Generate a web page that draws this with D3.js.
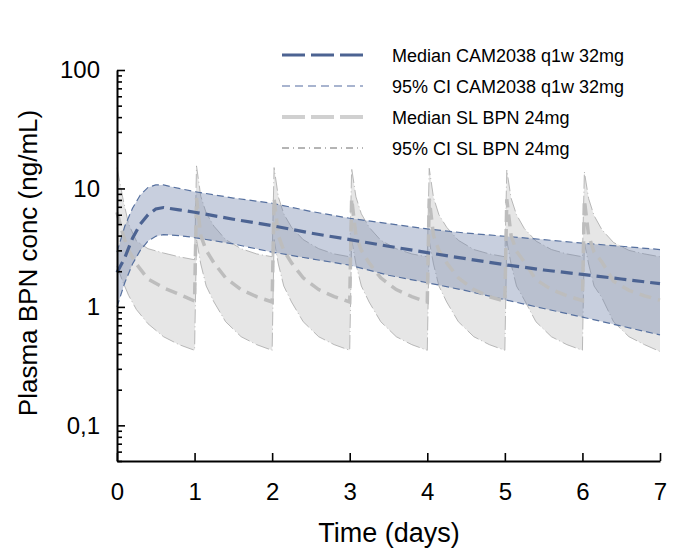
<!DOCTYPE html>
<html>
<head>
<meta charset="utf-8">
<script src="https://cdn.jsdelivr.net/npm/d3@7"></script>
<style>
  body { margin: 0; background: #fff; }
  svg { display: block; font-family: "Liberation Sans", Arial, sans-serif; }
</style>
</head>
<body>
<svg id="chart" width="690" height="550"></svg>
<script>
// ---------- DATA ----------
// CAM2038 q1w 32mg (weekly depot)
const camTime   = [0, 0.1, 0.2, 0.3, 0.4, 0.5, 0.6, 0.8, 1, 1.5, 2, 2.5, 3, 3.5, 4, 4.5, 5, 5.5, 6, 6.5, 7];
const camMedian = [1.95, 2.6, 3.8, 5.0, 6.0, 6.7, 6.9, 6.6, 6.3, 5.5, 4.85, 4.2, 3.7, 3.25, 2.87, 2.55, 2.27, 2.05, 1.88, 1.72, 1.57];
const camLow    = [1.0, 1.6, 2.3, 3.0, 3.6, 3.95, 4.07, 4.0, 3.85, 3.4, 2.9, 2.55, 2.25, 1.85, 1.6, 1.37, 1.15, 0.97, 0.82, 0.69, 0.58];
const camHigh   = [2.9, 4.8, 6.8, 8.8, 10.2, 10.7, 10.7, 10.0, 9.4, 8.3, 7.5, 6.4, 5.6, 5.05, 4.55, 4.2, 3.95, 3.7, 3.45, 3.25, 3.05];

// SL BPN 24mg (daily sublingual)
const slTime = [
  0, 0.08, 0.15, 0.25, 0.4, 0.6, 0.8, 1,
  1.025, 1.08, 1.15, 1.25, 1.4, 1.6, 1.8, 2,
  2.025, 2.08, 2.15, 2.25, 2.4, 2.6, 2.8, 3,
  3.025, 3.08, 3.15, 3.25, 3.4, 3.6, 3.8, 4,
  4.025, 4.08, 4.15, 4.25, 4.4, 4.6, 4.8, 5,
  5.025, 5.08, 5.15, 5.25, 5.4, 5.6, 5.8, 6,
  6.025, 6.08, 6.15, 6.25, 6.4, 6.6, 6.8, 7
];
const slMedian = [
  6.3, 4.0, 3.0, 2.3, 1.72, 1.45, 1.28, 1.12,
  8.3, 4.0, 3.0, 2.35, 1.76, 1.4, 1.22, 1.1,
  8.3, 4.0, 3.0, 2.35, 1.76, 1.4, 1.22, 1.1,
  8.2, 4.0, 3.0, 2.35, 1.76, 1.4, 1.22, 1.1,
  8.2, 4.0, 3.0, 2.35, 1.76, 1.4, 1.22, 1.12,
  8.1, 4.0, 2.95, 2.4, 1.7, 1.4, 1.24, 1.13,
  8.0, 4.0, 2.9, 2.4, 1.65, 1.38, 1.24, 1.14
];
const slLow = [
  2.2, 1.6, 1.25, 0.95, 0.72, 0.56, 0.48, 0.43,
  3.7, 2.3, 1.5, 1.1, 0.75, 0.56, 0.48, 0.43,
  3.7, 2.3, 1.5, 1.1, 0.75, 0.56, 0.48, 0.43,
  3.7, 2.3, 1.5, 1.1, 0.75, 0.56, 0.48, 0.43,
  3.6, 2.3, 1.5, 1.1, 0.75, 0.56, 0.48, 0.43,
  3.6, 2.3, 1.5, 1.15, 0.75, 0.56, 0.48, 0.43,
  3.5, 2.3, 1.5, 1.2, 0.75, 0.56, 0.48, 0.42
];
const slHigh = [
  15, 8.0, 5.0, 3.6, 3.1, 2.85, 2.65, 2.5,
  15.5, 8.6, 6.2, 4.8, 3.7, 3.1, 2.8, 2.65,
  15, 8.5, 6.1, 4.7, 3.7, 3.1, 2.8, 2.65,
  14.8, 8.5, 6.1, 4.7, 3.65, 3.1, 2.8, 2.65,
  14.8, 8.4, 6.0, 4.7, 3.65, 3.05, 2.8, 2.65,
  14.3, 8.3, 6.0, 4.6, 3.6, 3.05, 2.8, 2.65,
  13.8, 8.2, 5.9, 4.5, 3.5, 3.0, 2.8, 2.65
];

const xTicks = [0, 1, 2, 3, 4, 5, 6, 7];
const yMajor = [0.1, 1, 10, 100];
const yMinor = [0.05, 0.06, 0.07, 0.08, 0.09,
                0.2, 0.3, 0.4, 0.5, 0.6, 0.7, 0.8, 0.9,
                2, 3, 4, 5, 6, 7, 8, 9,
                20, 30, 40, 50, 60, 70, 80, 90];
const yLabels = {0.1: "0,1", 1: "1", 10: "10", 100: "100"};

const legendItems = [
  "Median CAM2038 q1w 32mg",
  "95% CI CAM2038 q1w 32mg",
  "Median SL BPN 24mg",
  "95% CI SL BPN 24mg"
];

// ---------- CHART ----------
const svg = d3.select("#chart");
const x = d3.scaleLinear().domain([0, 7]).range([117, 660]);
const y = d3.scaleLog().domain([0.05, 100]).range([461, 70]);

const cam = camTime.map((t, i) => ({t, m: camMedian[i], lo: camLow[i], hi: camHigh[i]}));
const sl  = slTime.map((t, i) => ({t, m: slMedian[i], lo: slLow[i], hi: slHigh[i]}));

const area = d3.area().x(d => x(d.t)).y0(d => y(d.lo)).y1(d => y(d.hi));
const lineM  = d3.line().x(d => x(d.t)).y(d => y(d.m));
const lineLo = d3.line().x(d => x(d.t)).y(d => y(d.lo));
const lineHi = d3.line().x(d => x(d.t)).y(d => y(d.hi));

const plot = svg.append("g");

// SL band
plot.append("path").datum(sl).attr("d", area)
  .attr("fill", "#e6e6e6").attr("stroke", "none");
[lineLo, lineHi].forEach(l => {
  plot.append("path").datum(sl).attr("d", l)
    .attr("fill", "none").attr("stroke", "#a8a8a8").attr("stroke-width", 0.8)
    .attr("stroke-dasharray", "14,3,1,3");
});

// CAM band
plot.append("path").datum(cam).attr("d", area)
  .attr("fill", "rgb(117,135,172)").attr("fill-opacity", 0.4).attr("stroke", "none");
[lineLo, lineHi].forEach(l => {
  plot.append("path").datum(cam).attr("d", l)
    .attr("fill", "none").attr("stroke", "#56709f").attr("stroke-width", 1.2)
    .attr("stroke-dasharray", "7,4");
});

// SL median
plot.append("path").datum(sl).attr("d", lineM)
  .attr("fill", "none").attr("stroke", "#bdbdbd").attr("stroke-width", 3.5)
  .attr("stroke-dasharray", "12,7");

// CAM median
plot.append("path").datum(cam).attr("d", lineM)
  .attr("fill", "none").attr("stroke", "#4c6392").attr("stroke-width", 3.2)
  .attr("stroke-dasharray", "12,6");

// ---------- AXES ----------
const fontTick = 24;
const yAxis = d3.axisLeft(y)
  .tickValues(yMajor.concat(yMinor))
  .tickSizeInner(-8).tickSizeOuter(0).tickPadding(17)
  .tickFormat(d => yLabels[d] || "");
const gy = svg.append("g").attr("transform", "translate(117,0)").call(yAxis);
gy.select(".domain").attr("stroke", "#000").attr("stroke-width", 2);
gy.selectAll(".tick line").attr("stroke", "#000").attr("stroke-width", 1.6)
  .attr("x2", d => yMajor.includes(d) ? 8 : 5);
gy.selectAll(".tick text").attr("font-size", fontTick).attr("fill", "#000")
  .attr("font-family", "'Liberation Sans', Arial, sans-serif");

const xAxis = d3.axisBottom(x)
  .tickValues(xTicks).tickSizeInner(-8).tickSizeOuter(0).tickPadding(22)
  .tickFormat(d3.format("d"));
const gx = svg.append("g").attr("transform", "translate(0,461)").call(xAxis);
gx.select(".domain").attr("stroke", "#000").attr("stroke-width", 2);
gx.selectAll(".tick line").attr("stroke", "#000").attr("stroke-width", 1.6);
gx.selectAll(".tick text").attr("font-size", fontTick).attr("fill", "#000")
  .attr("font-family", "'Liberation Sans', Arial, sans-serif");

// Axis titles
svg.append("text").attr("x", 389).attr("y", 542).attr("text-anchor", "middle")
  .attr("font-size", 27).attr("fill", "#000").text("Time (days)");
svg.append("text").attr("transform", "translate(37,263) rotate(-90)")
  .attr("text-anchor", "middle").attr("font-size", 26).attr("fill", "#000")
  .text("Plasma BPN conc (ng/mL)");

// ---------- LEGEND ----------
const legendStyles = [
  {stroke: "#4c6392", width: 3.2, dash: "23,6"},
  {stroke: "#8c9cc0", width: 1.3, dash: "8,5"},
  {stroke: "#d0d0d0", width: 4, dash: "23,6"},
  {stroke: "#444", width: 0.8, dash: "7,4,1,4"}
];
const lg = svg.append("g");
legendItems.forEach((label, i) => {
  const cy = 55 + i * 31;
  const s = legendStyles[i];
  lg.append("line").attr("x1", 282).attr("x2", 363).attr("y1", cy).attr("y2", cy)
    .attr("stroke", s.stroke).attr("stroke-width", s.width).attr("stroke-dasharray", s.dash);
  lg.append("text").attr("x", 392).attr("y", cy + 7).attr("font-size", 18)
    .attr("fill", "#000").text(label);
});
</script>
</body>
</html>
